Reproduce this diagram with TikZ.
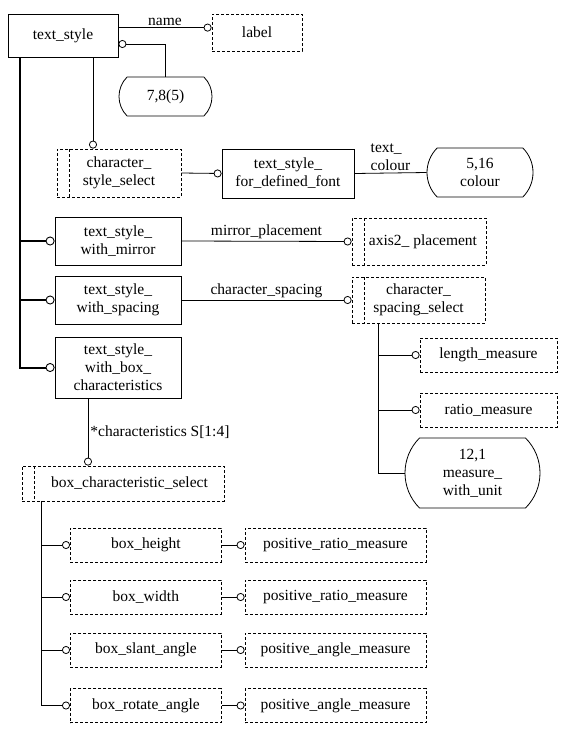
\documentclass[tikz,border=0pt]{standalone}
\usepackage{fontspec}
\setmainfont{Liberation Serif}
\usetikzlibrary{arrows.meta, shapes.misc}

\tikzset{
    entity/.style={draw, line width=0.8pt, inner sep=0pt, align=center, font=\fontsize{15.5}{18}\selectfont},
    defined/.style={entity, dash pattern=on 3pt off 2pt},
    selectbox/.style={defined, path picture={\draw[dash pattern=on 3pt off 2pt, line width=0.8pt] ([xshift=12pt]path picture bounding box.north west) -- ([xshift=12pt]path picture bounding box.south west);}},
    pageref/.style={entity, rounded rectangle, rounded rectangle arc length=90},
    link/.style={line width=0.8pt},
    rel/.style={link, -{Circle[open, length=8pt]}},
    subtype/.style={line width=2pt, -{Circle[open, length=9pt, line width=0.9pt]}},
    rolename/.style={font=\fontsize{15.5}{18}\selectfont, inner sep=2pt},
}

\begin{document}
\begin{tikzpicture}[x=1pt, y=-1pt]
    \useasboundingbox (0,0) rectangle (571,731);

    % Draw the entities and types
    \node[entity, minimum width=110pt, minimum height=43pt] (TextStyle) at (63,35.5) {text\_style};
    \node[defined, minimum width=90pt, minimum height=37pt] (Label) at (257,32.5) {label};
    \node[pageref, minimum width=93pt, minimum height=39pt] (Ref78) at (165.5,96.5) {7,8(5)};
    \node[selectbox, minimum width=124pt, minimum height=48pt] (CharStyleSelect) at (119,173) {character\_\\style\_select};
    \node[entity, minimum width=132pt, minimum height=49pt] (DefinedFont) at (288,173.5) {text\_style\_\\for\_defined\_font};
    \node[pageref, minimum width=106pt, minimum height=49pt] (Colour) at (480,172.5) {5,16\\colour};
    \node[entity, minimum width=126pt, minimum height=48pt] (WithMirror) at (118,241) {text\_style\_\\with\_mirror};
    \node[selectbox, minimum width=134pt, minimum height=47pt] (Axis) at (419,241.5) {\hspace*{8pt}axis2\_ placement};
    \node[entity, minimum width=126pt, minimum height=48pt] (WithSpacing) at (118,300) {text\_style\_\\with\_spacing};
    \node[selectbox, minimum width=133pt, minimum height=46pt] (SpacingSelect) at (418.5,300) {character\_\\spacing\_select};
    \node[entity, minimum width=126pt, minimum height=61pt] (WithBox) at (118,367.5) {text\_style\_\\with\_box\_\\characteristics};
    \node[defined, minimum width=137pt, minimum height=34pt] (Length) at (488.5,355) {length\_measure};
    \node[defined, minimum width=137pt, minimum height=34pt] (Ratio) at (488.5,410) {ratio\_measure};
    \node[pageref, minimum width=135pt, minimum height=70pt] (MeasureUnit) at (472.5,473) {12,1\\measure\_\\with\_unit};
    \node[selectbox, minimum width=202pt, minimum height=35pt] (BoxSelect) at (123,483.5) {\hspace*{13pt}box\_characteristic\_select};

    % Define coordinates for the trunks
    \coordinate (Trunk) at ([xshift=12pt]TextStyle.south west);
    \coordinate (Trunk2) at ([xshift=27pt]SpacingSelect.south west);
    \coordinate (Trunk3) at ([xshift=20pt]BoxSelect.south west);

    % Attributes of text_style
    \draw[rel] ([yshift=-14pt]TextStyle.north east) -- ([yshift=-14pt]TextStyle.north east -| Label.west) node[rolename, midway, above] {name};
    \draw[rel] (Ref78.north) |- ([yshift=-8.5pt]TextStyle.east);
    \draw[rel] ([xshift=30pt]TextStyle.south) -- ([xshift=30pt]TextStyle.south |- CharStyleSelect.north);
    \draw[rel] (CharStyleSelect.east) -- (DefinedFont.west);
    \draw[link] (DefinedFont.east) -- (Colour.west) node[rolename, midway, above, align=left] {text\_\\colour};

    % Subtypes
    \draw[subtype] (Trunk) |- (WithBox.west);
    \foreach \n in {WithMirror, WithSpacing}
        \draw[subtype] (Trunk |- \n.west) -- (\n.west);
    \draw[rel] (WithMirror.east) -- (Axis.west) node[rolename, midway, above] {mirror\_placement};
    \draw[rel] (WithSpacing.east) -- (SpacingSelect.west) node[rolename, midway, above] {character\_spacing};

    % Spacing select
    \draw[link] (Trunk2) |- (MeasureUnit.west);
    \foreach \n in {Length, Ratio}
        \draw[rel] (Trunk2 |- \n.west) -- (\n.west);

    % Box characteristics
    \draw[rel] ([xshift=-30pt]WithBox.south) -- ([xshift=-30pt]WithBox.south |- BoxSelect.north) node[rolename, pos=0.5, right] {*characteristics S[1:4]};
    \foreach \i/\attr/\meas/\y in {1/box\_height/positive\_ratio\_measure/545, 2/box\_width/positive\_ratio\_measure/597, 3/box\_slant\_angle/positive\_angle\_measure/650, 4/box\_rotate\_angle/positive\_angle\_measure/705.5}
    {
        \node[defined, anchor=west, minimum width=151pt, minimum height=34pt] (Attr\i) at (70,\y) {\attr};
        \node[defined, minimum width=181pt, minimum height=34pt] (Meas\i) at (335.5,\y) {\meas};
        \draw[rel] (Trunk3 |- Attr\i.west) -- (Attr\i.west);
        \draw[rel] (Attr\i.east) -- (Meas\i.west);
    }
    \draw[link] (Trunk3) -- (Trunk3 |- Attr4.west);
\end{tikzpicture}
\end{document}
